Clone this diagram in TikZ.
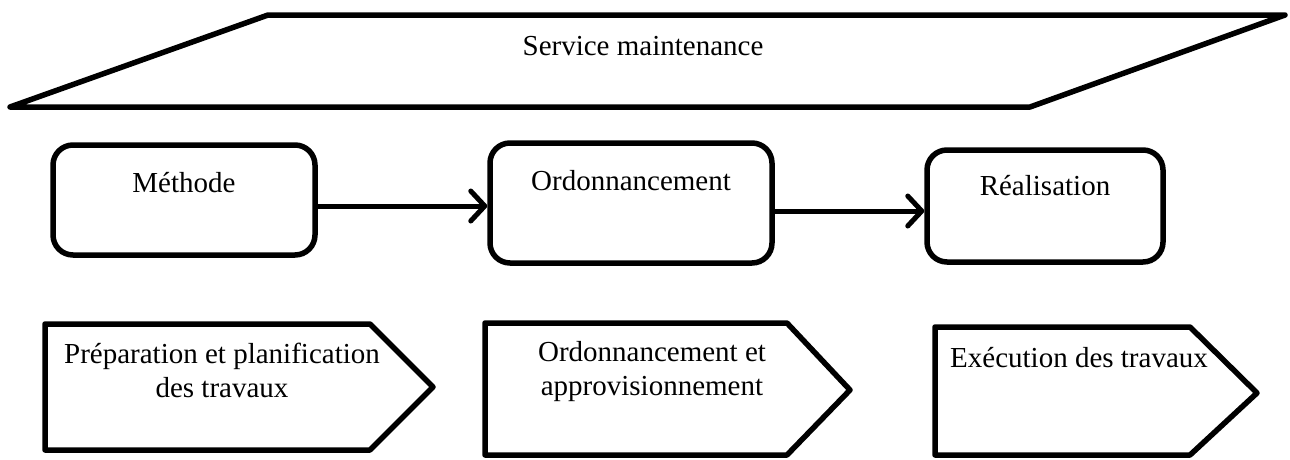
\documentclass[tikz,border=0pt]{standalone}
\usepackage{fontspec}
\setmainfont{Liberation Serif}
\usetikzlibrary{arrows.meta}
\begin{document}
\begin{tikzpicture}[x=1pt,y=-1pt,
  outline/.style={line width=5.5pt,line join=round,line cap=round},
  roundbox/.style={outline,draw,rounded corners=20pt,inner sep=0pt},
  label/.style={font=\fontsize{29}{34}\selectfont,align=center,inner sep=0pt},
  arr/.style={line width=5pt,-{Straight Barb[length=14pt,width=30pt,round]}}]
\useasboundingbox (0,0) rectangle (1290,459);

% service banner
\draw[outline] (268,15) -- (1285,15) -- (1030,107) -- (10,107) -- cycle;
\node[label] (svc) at (643,46) {Service maintenance};

% the three services
\node[roundbox,minimum width=262pt,minimum height=110pt] (m) at (184,200) {};
\node[roundbox,minimum width=282pt,minimum height=120pt] (o) at (631,203) {};
\node[roundbox,minimum width=236pt,minimum height=112pt] (r) at (1045,206) {};
\node[label] (mt) at (184,183) {Méthode};
\node[label] (ot) at (631,181) {Ordonnancement};
\node[label] (rt) at (1045,186) {Réalisation};

\draw[arr] (m.east |- 0,206) -- (o.west |- 0,206);
\draw[arr] (o.east |- 0,211) -- (r.west |- 0,211);

% tasks of each service
\draw[outline] (45,324) -- (370,324) -- (433,387) -- (370,450) -- (45,450) -- cycle;
\draw[outline] (485,323) -- (787,323) -- (850,390) -- (787,455) -- (485,455) -- cycle;
\draw[outline] (935,327) -- (1190,327) -- (1257,393) -- (1190,455) -- (935,455) -- cycle;
\node[label] (p1) at (222,370) {Préparation et planification\\des travaux};
\node[label] (p2) at (652,372) {Ordonnancement et\\approvisionnement};
\node[label] (p3) at (1079,358) {Exécution des travaux};
\end{tikzpicture}
\end{document}
